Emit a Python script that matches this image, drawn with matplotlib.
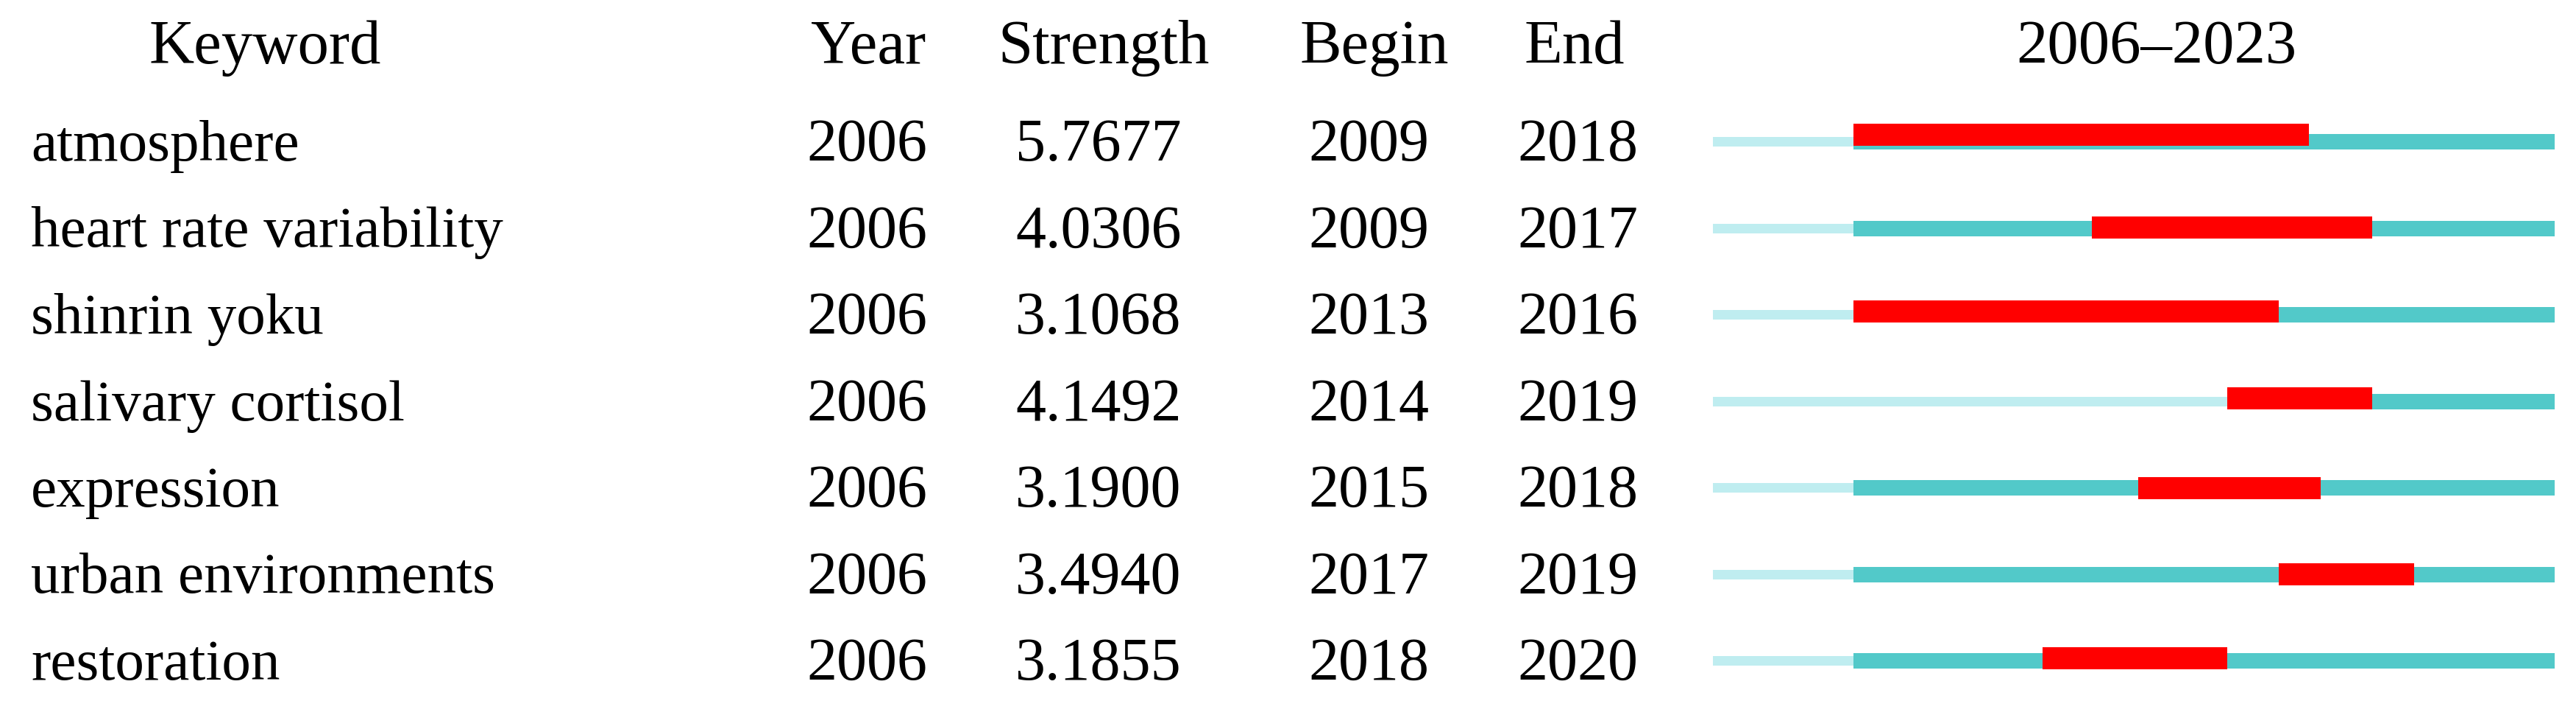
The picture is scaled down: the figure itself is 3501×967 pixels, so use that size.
import matplotlib
matplotlib.use("Agg")
import matplotlib.pyplot as plt

# table data
keywords = ["atmosphere", "heart rate variability", "shinrin yoku", "salivary cortisol",
            "expression", "urban environments", "restoration"]
year = [2006, 2006, 2006, 2006, 2006, 2006, 2006]
strength = ["5.7677", "4.0306", "3.1068", "4.1492", "3.1900", "3.4940", "3.1855"]
begin = [2009, 2009, 2013, 2014, 2015, 2017, 2018]
end = [2018, 2017, 2016, 2019, 2018, 2019, 2020]

# bar segments as drawn in the timeline (year coordinates, right edge exclusive)
first_year, last_year = 2006, 2023
active_from = [2009, 2009, 2009, 2017, 2009, 2009, 2009]
burst_from = [2009, 2014.1, 2009, 2017, 2015.1, 2018.1, 2013.05]
burst_to = [2018.75, 2020.1, 2018.1, 2020.1, 2019, 2021, 2017]

light = "#bfedf0"
teal = "#52c9c9"
red = "#ff0000"
font = "Liberation Serif"

W, H = 3501, 967
fig = plt.figure(figsize=(W / 100, H / 100), dpi=100)
fig.patch.set_facecolor("white")

# layout (pixels)
row_top = 192.5
row_step = 117.5
rows_y = [row_top + i * row_step for i in range(len(keywords))]
red_dy = [-9.5, -1, -4.5, -4.5, 0, 0, -4]   # red block sits a bit high on some rows
head_base = 86
text_off = 25.5

ax = fig.add_axes([0, 0, 1, 1])
ax.set_xlim(0, W)
ax.set_ylim(H, 0)
ax.axis("off")

hsize, ksize, nsize = 61, 57, 59
heads = [("Keyword", 360), ("Year", 1180), ("Strength", 1500), ("Begin", 1868),
         ("End", 2140), (f"{first_year}\u2013{last_year}", 2931)]
for label, x in heads:
    ax.text(x, head_base, label, ha="center", va="baseline", fontsize=hsize, family=font)

col_x = [1178, 1493, 1860, 2144]
for i, y in enumerate(rows_y):
    yb = y + text_off
    ax.text(42, yb, keywords[i], ha="left", va="baseline", fontsize=ksize, family=font)
    for x, v in zip(col_x, [year[i], strength[i], begin[i], end[i]]):
        ax.text(x, yb, str(v), ha="center", va="baseline", fontsize=nsize, family=font)

# timeline panel
bx0, bx1 = 2328, 3472
axb = fig.add_axes([bx0 / W, 0, (bx1 - bx0) / W, 1])
axb.set_xlim(first_year, last_year + 1)
axb.set_ylim(H, 0)
axb.axis("off")
axb.patch.set_alpha(0)

for i, y in enumerate(rows_y):
    a = active_from[i]
    axb.barh(y, a - first_year, left=first_year, height=13, color=light, linewidth=0)
    axb.barh(y, last_year + 1 - a, left=a, height=21, color=teal, linewidth=0)
    axb.barh(y + red_dy[i], burst_to[i] - burst_from[i], left=burst_from[i], height=30,
             color=red, linewidth=0)

fig.savefig("out.png", dpi=100, facecolor="white")
